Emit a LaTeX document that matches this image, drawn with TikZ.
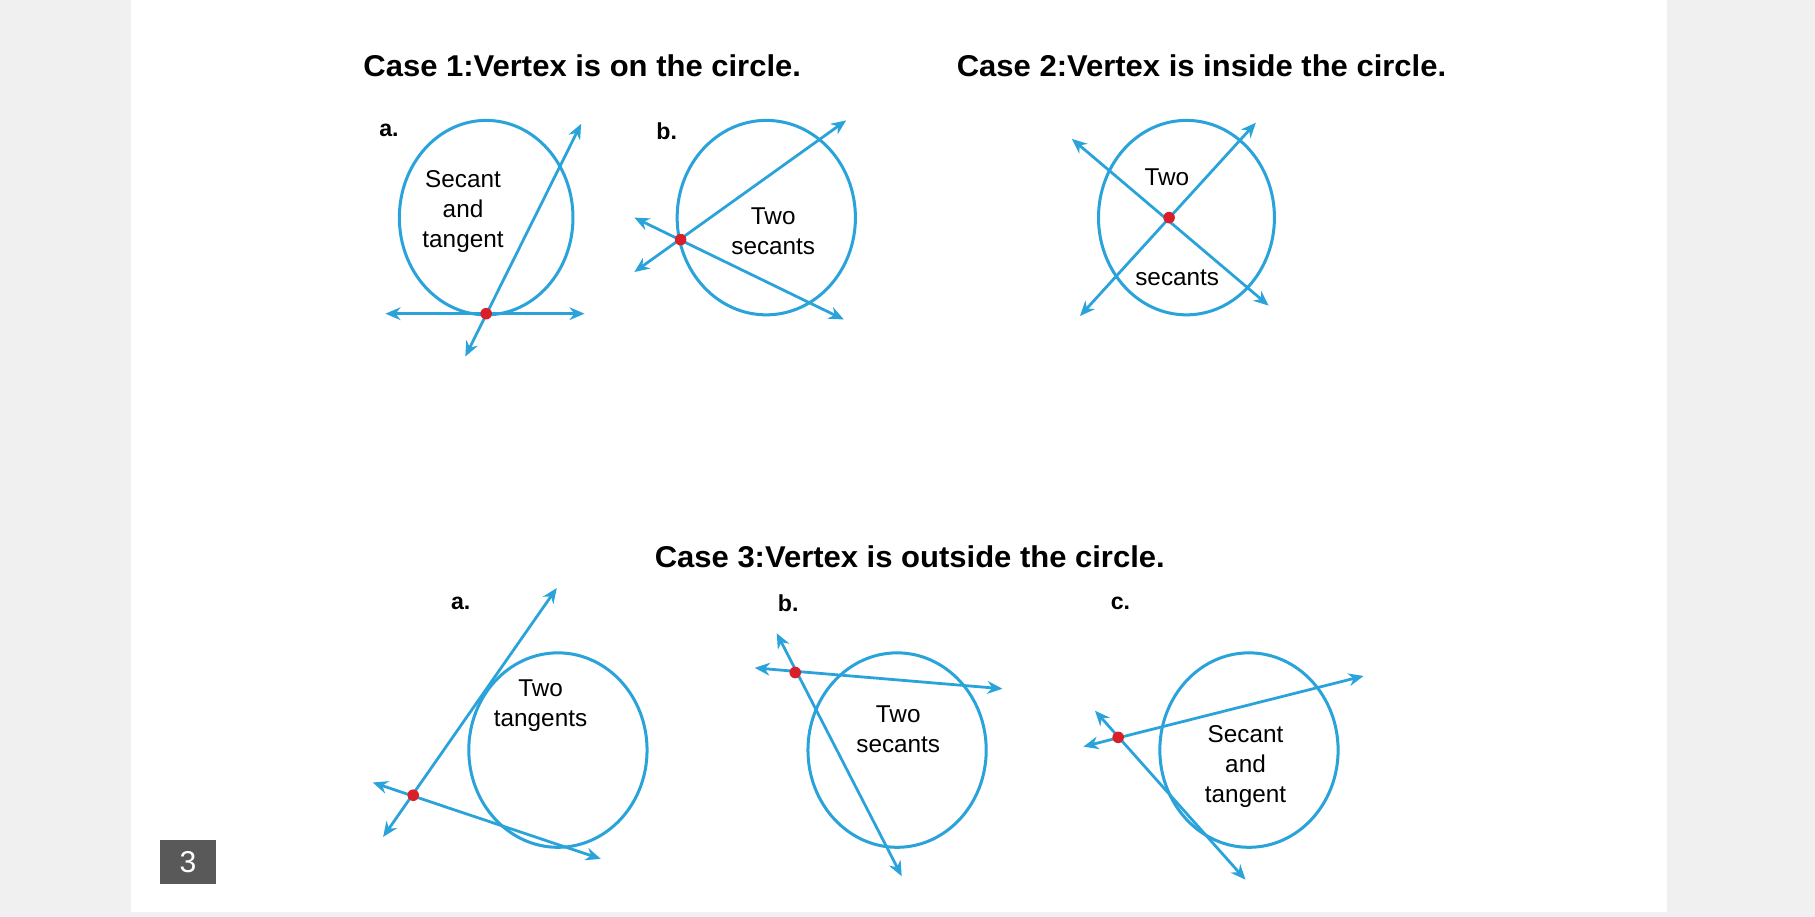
\documentclass[tikz,border=0pt]{standalone}
\usepackage{fontspec}
\setmainfont{Liberation Sans}
\usetikzlibrary{arrows.meta}
\definecolor{cb}{HTML}{29A3D9}
\definecolor{vr}{HTML}{D9202A}
\tikzset{
 circ/.style={draw=cb,line width=2.6pt},
 ln/.style={draw=cb,line width=2.4pt,{Stealth[length=13pt,width=11pt]}-{Stealth[length=13pt,width=11pt]}},
 vx/.style={circle,fill=vr,inner sep=0pt,minimum size=10pt},
 lab/.style={font=\fontsize{21}{26}\selectfont,align=center,inner sep=0pt},
 ttl/.style={font=\bfseries\fontsize{26}{26}\selectfont,xscale=1.03,inner sep=0pt},
 let/.style={font=\bfseries\fontsize{20}{20}\selectfont,inner sep=0pt}
}
\begin{document}
\begin{tikzpicture}[x=1pt,y=-1pt]
\useasboundingbox (0,0) rectangle (1568,792);
\fill[black!6] (0,0) rectangle (1568,792);
\fill[white] (113,0) rectangle (1440,788);
\node[ttl] (t1) at (503,57) {Case 1:Vertex is on the circle.};
\node[ttl] (t2) at (1038,57) {Case 2:Vertex is inside the circle.};
\node[ttl] (t3) at (786,481) {Case 3:Vertex is outside the circle.};
% 1a
\node[let] at (336,113) {a.};
\draw[circ] (420,188) ellipse [x radius=75,y radius=84];
\coordinate (a1) at (333,271); \coordinate (a2) at (505,271);
\coordinate (a3) at (402,308); \coordinate (a4) at (502,107);
\draw[ln] (a1) -- (a2); \draw[ln] (a3) -- (a4);
\node[vx] (v1) at (420,271) {};
\node[lab] at (400,183) {Secant\\and\\tangent};
% 1b
\node[let] at (576,113) {b.};
\draw[circ] (662,188) ellipse [x radius=77,y radius=84];
\coordinate (b1) at (548,235); \coordinate (b2) at (731,104);
\coordinate (b3) at (548,188); \coordinate (b4) at (729,276);
\draw[ln] (b1) -- (b2); \draw[ln] (b3) -- (b4);
\node[vx] (v2) at (588,207) {};
\node[lab] at (668,200) {Two\\secants};
% 2
\draw[circ] (1025,188) ellipse [x radius=76,y radius=84];
\coordinate (c1) at (926,120); \coordinate (c2) at (1096,264);
\coordinate (c3) at (933,273); \coordinate (c4) at (1085,106);
\draw[ln] (c1) -- (c2); \draw[ln] (c3) -- (c4);
\node[vx] (v3) at (1010,188) {};
\node[lab] at (1008,153) {Two};
\node[lab] at (1017,240) {secants};
% 3a
\node[let] at (398,521) {a.};
\draw[circ] (482,648) ellipse [x radius=77,y radius=84];
\coordinate (d1) at (331,723); \coordinate (d2) at (481,508);
\coordinate (d3) at (322,676); \coordinate (d4) at (519,742);
\draw[ln] (d1) -- (d2); \draw[ln] (d3) -- (d4);
\node[vx] (v4) at (357,687) {};
\node[lab] at (467,610) {Two\\tangents};
% 3b
\node[let] at (681,521) {b.};
\draw[circ] (775,648) ellipse [x radius=77,y radius=84];
\coordinate (e1) at (652,577); \coordinate (e2) at (866,595);
\coordinate (e3) at (671,547); \coordinate (e4) at (779,757);
\draw[ln] (e1) -- (e2); \draw[ln] (e3) -- (e4);
\node[vx] (v5) at (687,581) {};
\node[lab] at (776,630) {Two\\secants};
% 3c
\node[let] at (968,521) {c.};
\draw[circ] (1079,648) ellipse [x radius=77,y radius=84];
\coordinate (f1) at (936,645); \coordinate (f2) at (1178,584);
\coordinate (f3) at (946,614); \coordinate (f4) at (1076,760);
\draw[ln] (f1) -- (f2); \draw[ln] (f3) -- (f4);
\node[vx] (v6) at (966,637) {};
\node[lab] at (1076,662) {Secant\\and\\tangent};
% box
\node[fill=black!65,text=white,minimum width=49pt,minimum height=38pt,inner sep=0pt,font=\fontsize{26}{26}\selectfont] (bx) at (162.5,745) {3};
\end{tikzpicture}
\end{document}
